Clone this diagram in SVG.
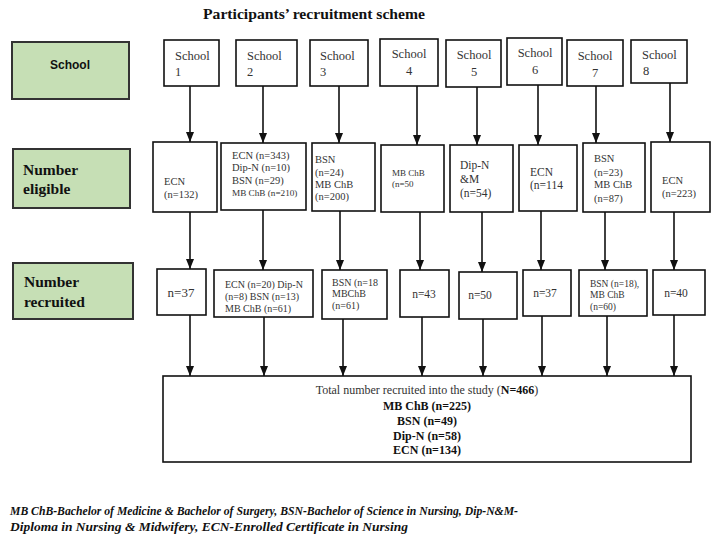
<svg xmlns="http://www.w3.org/2000/svg" width="719" height="544" viewBox="0 0 719 544">
<style>
.bg{fill:#fff}
.lab{fill:#c6dfb5;stroke:#333;stroke-width:2}
.box{fill:#fff;stroke:#111;stroke-width:1.6}
.t{font-family:"Liberation Serif","Times New Roman",serif;fill:#333}
.s13{font-size:12.5px}
.s12{font-size:11.5px}
.s11{font-size:10.5px}
.s10{font-size:10px}
.s9{font-size:9.5px}
.labt{font-family:"Liberation Serif","Times New Roman",serif;font-weight:bold;font-size:15.5px;fill:#111}
.ln{stroke:#111;stroke-width:1.6;fill:none}
.c{text-anchor:middle}
.b{font-weight:bold;fill:#111}
</style>
<defs>
<marker id="ah" markerUnits="userSpaceOnUse" markerWidth="10" markerHeight="10" viewBox="0 0 10 10" refX="10" refY="5" orient="auto">
<path d="M0,1 L10,5 L0,9 Z" fill="#111"/>
</marker>
</defs>
<rect class="bg" x="0" y="0" width="719" height="544"/>
<text x="314" y="19" class="t c b" font-size="15.5px" textLength="222" lengthAdjust="spacingAndGlyphs">Participants’ recruitment scheme</text>

<g id="label-school">
<rect class="lab" x="12" y="42" width="117" height="57"/>
<text x="70" y="69" font-family="'Liberation Sans',Arial,sans-serif" font-weight="bold" font-size="12px" fill="#111" text-anchor="middle">School</text>
</g>
<g id="label-eligible">
<rect class="lab" x="13" y="149" width="117" height="59"/>
<text class="labt" x="23" y="175">Number</text>
<text class="labt" x="23" y="194">eligible</text>
</g>
<g id="label-recruited">
<rect class="lab" x="13" y="263" width="120" height="56"/>
<text class="labt" x="24" y="287" font-size="16px">Number</text>
<text class="labt" x="24" y="307" font-size="16px">recruited</text>
</g>

<g id="school1"><rect class="box" x="164" y="40" width="55" height="46"/><text class="t s13" x="175" y="60">School</text><text class="t s13" x="175" y="76">1</text></g>
<g id="school2"><rect class="box" x="236" y="40" width="61" height="46"/><text class="t s13" x="247" y="60">School</text><text class="t s13" x="247" y="76">2</text></g>
<g id="school3"><rect class="box" x="310" y="40" width="58" height="46"/><text class="t s13" x="320" y="60">School</text><text class="t s13" x="320" y="76">3</text></g>
<g id="school4"><rect class="box" x="380" y="39" width="58" height="47"/><text class="t s13 c" x="409" y="58">School</text><text class="t s13 c" x="409" y="75">4</text></g>
<g id="school5"><rect class="box" x="446" y="40" width="55" height="47"/><text class="t s13 c" x="474" y="59">School</text><text class="t s13 c" x="474" y="76">5</text></g>
<g id="school6"><rect class="box" x="507" y="38" width="55" height="47"/><text class="t s13 c" x="535" y="57">School</text><text class="t s13 c" x="535" y="74">6</text></g>
<g id="school7"><rect class="box" x="567" y="40" width="56" height="46"/><text class="t s13 c" x="595" y="60">School</text><text class="t s13 c" x="595" y="77">7</text></g>
<g id="school8"><rect class="box" x="631" y="40" width="56" height="43"/><text class="t s13" x="642" y="59">School</text><text class="t s13" x="643" y="75">8</text></g>

<g id="elig1"><rect class="box" x="153" y="142" width="64" height="70"/><text class="t s11" x="164" y="185">ECN</text><text class="t s11" x="164" y="198">(n=132)</text></g>
<g id="elig2"><rect class="box" x="221" y="143" width="85" height="67"/><text class="t s11" x="232" y="159">ECN (n=343)</text><text class="t s11" x="232" y="171">Dip-N (n=10)</text><text class="t s11" x="232" y="184">BSN (n=29)</text><text class="t" font-size="9.2px" x="232" y="196">MB ChB (n=210)</text></g>
<g id="elig3"><rect class="box" x="312" y="143" width="63" height="68"/><text class="t s11" x="315" y="163">BSN</text><text class="t s11" x="315" y="176">(n=24)</text><text class="t s11" x="315" y="188">MB ChB</text><text class="t s11" x="315" y="200">(n=200)</text></g>
<g id="elig4"><rect class="box" x="381" y="145" width="63" height="67"/><text class="t" font-size="9px" x="392" y="176">MB ChB</text><text class="t" font-size="9px" x="392" y="187">(n=50</text></g>
<g id="elig5"><rect class="box" x="450" y="145" width="63" height="67"/><text class="t s12" x="460" y="169">Dip-N</text><text class="t s12" x="460" y="183">&amp;M</text><text class="t s12" x="460" y="197">(n=54)</text></g>
<g id="elig6"><rect class="box" x="519" y="145" width="58" height="66"/><text class="t s12" x="530" y="176">ECN</text><text class="t s12" x="530" y="189">(n=114</text></g>
<g id="elig7"><rect class="box" x="583" y="143" width="62" height="69"/><text class="t s11" x="594" y="162">BSN</text><text class="t s11" x="594" y="176">(n=23)</text><text class="t s11" x="594" y="188">MB ChB</text><text class="t s11" x="594" y="202">(n=87)</text></g>
<g id="elig8"><rect class="box" x="651" y="142" width="59" height="70"/><text class="t s11" x="662" y="184">ECN</text><text class="t s11" x="662" y="197">(n=223)</text></g>

<g id="rec1"><rect class="box" x="157" y="269" width="49" height="46"/><text class="t c" font-size="13px" x="181" y="297">n=37</text></g>
<g id="rec2"><rect class="box" x="214" y="270" width="99" height="47"/><text class="t s10" x="225" y="288">ECN (n=20) Dip-N</text><text class="t s10" x="225" y="300">(n=8) BSN (n=13)</text><text class="t s10" x="225" y="312">MB ChB (n=61)</text></g>
<g id="rec3"><rect class="box" x="322" y="270" width="65" height="49"/><text class="t s10" x="332" y="286">BSN (n=18</text><text class="t s10" x="332" y="297">MBChB</text><text class="t s10" x="332" y="309">(n=61)</text></g>
<g id="rec4"><rect class="box" x="400" y="270" width="49" height="47"/><text class="t s12 c" x="424" y="298">n=43</text></g>
<g id="rec5"><rect class="box" x="459" y="272" width="58" height="47"/><text class="t s12 c" x="480" y="299">n=50</text></g>
<g id="rec6"><rect class="box" x="523" y="270" width="48" height="46"/><text class="t s12 c" x="545" y="297">n=37</text></g>
<g id="rec7"><rect class="box" x="579" y="270" width="68" height="46"/><text class="t s9" x="590" y="287">BSN (n=18),</text><text class="t s9" x="590" y="298">MB ChB</text><text class="t s9" x="590" y="310">(n=60)</text></g>
<g id="rec8"><rect class="box" x="653" y="270" width="52" height="45"/><text class="t s12 c" x="676" y="297">n=40</text></g>

<g id="total"><rect class="box" x="163" y="376" width="528" height="86"/>
<text class="t c" font-size="12px" x="427" y="394">Total number recruited into the study (<tspan class="b">N=466</tspan>)</text>
<text class="t c b" font-size="12px" x="427" y="410">MB ChB (n=225)</text>
<text class="t c b" font-size="12px" x="427" y="425">BSN (n=49)</text>
<text class="t c b" font-size="12px" x="427" y="440">Dip-N (n=58)</text>
<text class="t c b" font-size="12px" x="427" y="454">ECN (n=134)</text>
</g>

<g id="connectors">
<line class="ln" marker-end="url(#ah)" x1="190" y1="86" x2="190" y2="142"/>
<line class="ln" marker-end="url(#ah)" x1="263" y1="86" x2="263" y2="143"/>
<line class="ln" marker-end="url(#ah)" x1="339" y1="86" x2="339" y2="143"/>
<line class="ln" marker-end="url(#ah)" x1="417" y1="86" x2="417" y2="145"/>
<line class="ln" marker-end="url(#ah)" x1="477" y1="87" x2="477" y2="145"/>
<line class="ln" marker-end="url(#ah)" x1="538" y1="85" x2="538" y2="145"/>
<line class="ln" marker-end="url(#ah)" x1="596" y1="86" x2="596" y2="143"/>
<line class="ln" marker-end="url(#ah)" x1="670" y1="83" x2="670" y2="142"/>

<line class="ln" marker-end="url(#ah)" x1="190" y1="212" x2="190" y2="269"/>
<line class="ln" marker-end="url(#ah)" x1="263" y1="210" x2="263" y2="270"/>
<line class="ln" marker-end="url(#ah)" x1="340" y1="211" x2="340" y2="270"/>
<line class="ln" marker-end="url(#ah)" x1="420" y1="212" x2="420" y2="270"/>
<line class="ln" marker-end="url(#ah)" x1="482" y1="212" x2="482" y2="272"/>
<line class="ln" marker-end="url(#ah)" x1="541" y1="211" x2="541" y2="270"/>
<line class="ln" marker-end="url(#ah)" x1="605" y1="212" x2="605" y2="270"/>
<line class="ln" marker-end="url(#ah)" x1="674" y1="212" x2="674" y2="270"/>

<line class="ln" marker-end="url(#ah)" x1="190" y1="315" x2="190" y2="376"/>
<line class="ln" marker-end="url(#ah)" x1="264" y1="317" x2="264" y2="376"/>
<line class="ln" marker-end="url(#ah)" x1="343" y1="319" x2="343" y2="376"/>
<line class="ln" marker-end="url(#ah)" x1="422" y1="317" x2="422" y2="376"/>
<line class="ln" marker-end="url(#ah)" x1="483" y1="319" x2="483" y2="376"/>
<line class="ln" marker-end="url(#ah)" x1="542" y1="316" x2="542" y2="376"/>
<line class="ln" marker-end="url(#ah)" x1="607" y1="316" x2="607" y2="376"/>
<line class="ln" marker-end="url(#ah)" x1="674" y1="315" x2="674" y2="376"/>
</g>

<text class="t b" font-style="italic" font-size="13px" x="10" y="515" textLength="508" lengthAdjust="spacingAndGlyphs">MB ChB-Bachelor of Medicine &amp; Bachelor of Surgery, BSN-Bachelor of Science in Nursing, Dip-N&amp;M-</text>
<text class="t b" font-style="italic" font-size="13px" x="10" y="531" textLength="398" lengthAdjust="spacingAndGlyphs">Diploma in Nursing &amp; Midwifery, ECN-Enrolled Certificate in Nursing</text>
</svg>
